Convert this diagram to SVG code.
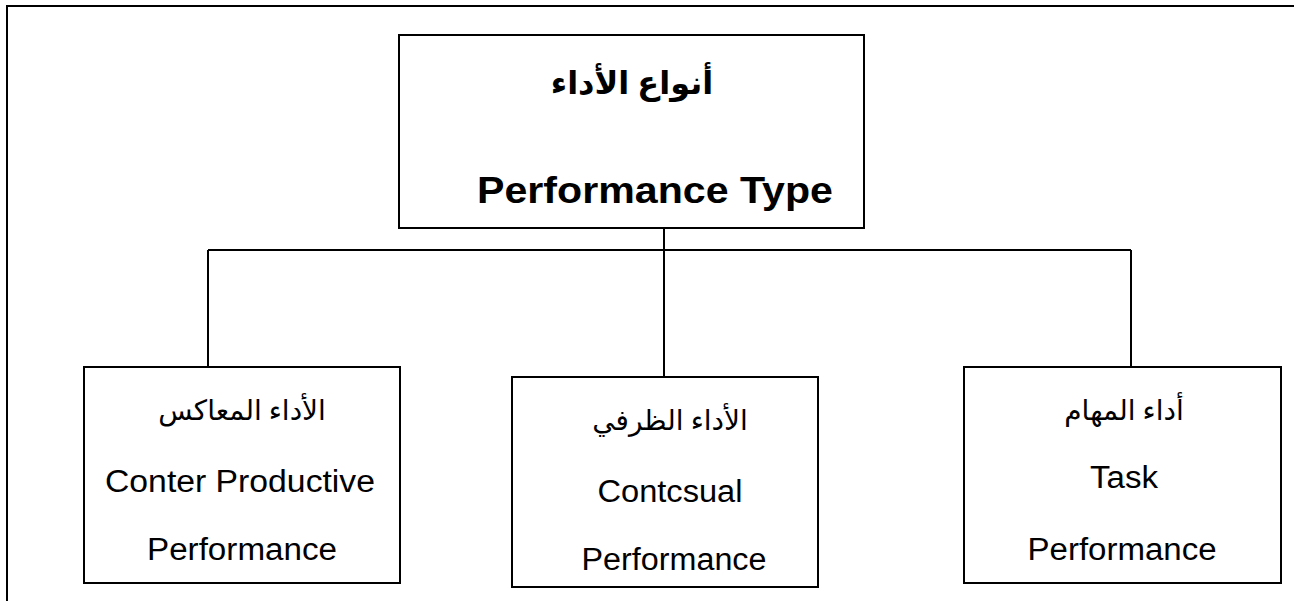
<svg xmlns="http://www.w3.org/2000/svg" width="1294" height="601" viewBox="0 0 1294 601">
<style>
.box{fill:#fff;stroke:#000;stroke-width:2}
.conn{fill:none;stroke:#000;stroke-width:2}
.en{font-family:"Liberation Sans",Arial,sans-serif;font-size:31px;fill:#000;text-anchor:middle}
.ar{font-family:"Liberation Serif","DejaVu Sans",serif;font-size:28px;fill:#000;text-anchor:middle}
.b{font-weight:bold}
</style>
<rect x="0" y="0" width="1294" height="601" fill="#fff"/>
<rect x="7" y="6" width="1300" height="610" fill="none" stroke="#000" stroke-width="2"/>
<g id="connectors">
<path class="conn" d="M664 228V377M208 250H1131M208 250V367M1131 250V367"/>
</g>
<g id="root">
<rect class="box" x="399" y="35" width="465" height="193"/>
<text class="ar b" x="632" y="94" style="font-size:32px" direction="rtl">أنواع الأداء</text>
<text class="en b" x="655" y="203" style="font-size:36px" textLength="356" lengthAdjust="spacingAndGlyphs">Performance Type</text>
</g>
<g id="counter">
<rect class="box" x="84" y="367" width="316" height="216"/>
<text class="ar" x="242" y="420" direction="rtl">الأداء المعاكس</text>
<text class="en" x="240" y="492" textLength="270" lengthAdjust="spacingAndGlyphs">Conter Productive</text>
<text class="en" x="242" y="560" textLength="190" lengthAdjust="spacingAndGlyphs">Performance</text>
</g>
<g id="contextual">
<rect class="box" x="512" y="377" width="306" height="210"/>
<text class="ar" x="670" y="430" direction="rtl">الأداء الظرفي</text>
<text class="en" x="670" y="502" textLength="145" lengthAdjust="spacingAndGlyphs">Contcsual</text>
<text class="en" x="674" y="570" textLength="185" lengthAdjust="spacingAndGlyphs">Performance</text>
</g>
<g id="task">
<rect class="box" x="964" y="367" width="317" height="216"/>
<text class="ar" x="1124" y="420" direction="rtl">أداء المهام</text>
<text class="en" x="1124" y="488" textLength="68" lengthAdjust="spacingAndGlyphs">Task</text>
<text class="en" x="1122" y="560" textLength="189" lengthAdjust="spacingAndGlyphs">Performance</text>
</g>
</svg>
